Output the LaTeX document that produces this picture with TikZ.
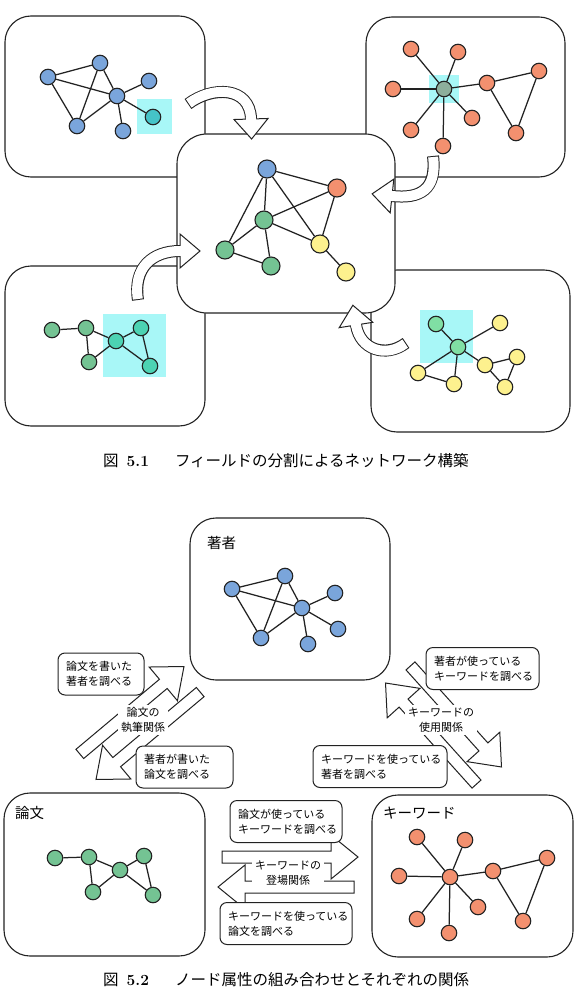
\documentclass[tikz,border=0pt]{standalone}
\usepackage{fontspec}
\newfontfamily\jp{Noto Sans CJK JP}
\usetikzlibrary{calc}
\definecolor{nblue}{HTML}{7AA5DB}
\definecolor{norange}{HTML}{F3906F}
\definecolor{ngreen}{HTML}{74C393}
\definecolor{nyellow}{HTML}{FDF18E}
\definecolor{hlc}{HTML}{A8F7F7}
\definecolor{nteal}{HTML}{45C4C8}
\definecolor{nteal2}{HTML}{4CD3B3}
\definecolor{ngrey}{HTML}{8DAF9C}
\definecolor{nmint}{HTML}{80DFA4}
\definecolor{ink}{HTML}{222222}
\newcommand{\fatarrow}[4]{%
  \draw[ink, line width=12pt] (#1) .. controls (#2) and (#3) .. (#4);
  \draw[white, line width=10pt, shorten <=1pt] (#1) .. controls (#2) and (#3) .. (#4);
  \filldraw[fill=white, draw=ink, line width=1pt, line join=miter]
    ($(#4)!17pt!90:(#3)$) -- ($(#4)!-20pt!(#3)$) -- ($(#4)!17pt!-90:(#3)$) -- cycle;
  \draw[white, line width=10pt] ($(#4)!2pt!(#3)$) -- ($(#4)!-2pt!(#3)$);
}
\newcommand{\splitarrows}[2]{%
  \begin{scope}[shift={(#1)}, rotate=#2]
    \filldraw[sarrow] (-66,-21) -- (43,-21) -- (43,-37) -- (70,-15) -- (43,7) -- (43,-9) -- (-66,-9) -- cycle;
    \filldraw[sarrow] (66,21) -- (-43,21) -- (-43,37) -- (-70,15) -- (-43,-7) -- (-43,9) -- (66,9) -- cycle;
  \end{scope}}
\begin{document}
\begin{tikzpicture}[x=1pt,y=-1pt,
  gnode/.style={circle, draw=ink, line width=1.1pt, minimum size=15.5pt, inner sep=0pt},
  cnode/.style={gnode, minimum size=18pt},
  edge/.style={draw=ink, line width=1.25pt},
  panel/.style={draw=ink, line width=1.1pt, rounded corners=26pt, fill=white},
  hl/.style={fill=hlc, draw=none},
  sarrow/.style={fill=white, draw=ink, line width=1pt, line join=miter},
  callout/.style={draw=ink, line width=1pt, rounded corners=7pt, fill=white, align=left,
    font=\jp\fontsize{11}{15}\selectfont, inner xsep=8pt, inner ysep=5pt, minimum height=42pt},
  rel/.style={fill=white, align=center, font=\jp\fontsize{11}{14.5}\selectfont, inner sep=3pt},
  ptitle/.style={anchor=west, font=\jp\fontsize{14.5}{16}\selectfont, inner sep=0pt},
]
\useasboundingbox (0,0) rectangle (579,1000);
\fill[white] (0,0) rectangle (579,1000);

% ================= Figure 5.1 =================
% top-left panel
\draw[panel] (5,16) rectangle (205,177);
\fill[hl] (137,99) rectangle (172,134);
\node[gnode, fill=nblue] (tA) at (48,77) {};
\node[gnode, fill=nblue] (tB) at (100,63) {};
\node[gnode, fill=nblue] (tC) at (117,96) {};
\node[gnode, fill=nblue] (tD) at (149,81) {};
\node[gnode, fill=nteal] (tE) at (153,117) {};
\node[gnode, fill=nblue] (tF) at (123,131) {};
\node[gnode, fill=nblue] (tG) at (77,126) {};
\foreach \a/\b in {tA/tB, tA/tC, tA/tG, tB/tG, tB/tC, tC/tD, tC/tE, tC/tF, tC/tG}
  \draw[edge] (\a) -- (\b);

% top-right panel
\draw[panel] (366,17) rectangle (565,177);
\fill[hl] (429,75) rectangle (459,103);
\node[gnode, fill=ngrey] (rH) at (444,89) {};
\node[gnode, fill=norange] (r1) at (411,49) {};
\node[gnode, fill=norange] (r2) at (458,52) {};
\node[gnode, fill=norange] (r3) at (393,89) {};
\node[gnode, fill=norange] (r4) at (487,83) {};
\node[gnode, fill=norange] (r5) at (539,71) {};
\node[gnode, fill=norange] (r6) at (472,118) {};
\node[gnode, fill=norange] (r7) at (411,130) {};
\node[gnode, fill=norange] (r8) at (443,146) {};
\node[gnode, fill=norange] (r9) at (516,133) {};
\foreach \a/\b in {rH/r1, rH/r2, rH/r3, rH/r4, rH/r6, rH/r7, rH/r8, r4/r5, r4/r9, r5/r9}
  \draw[edge] (\a) -- (\b);

% bottom-left panel
\draw[panel] (5,266) rectangle (205,426);
\fill[hl] (103,314) rectangle (166,377);
\node[gnode, fill=ngreen] (b1) at (52,330) {};
\node[gnode, fill=ngreen] (b2) at (86,328) {};
\node[gnode, fill=ngreen] (b3) at (89,362) {};
\node[gnode, fill=nteal2] (b4) at (116,341) {};
\node[gnode, fill=nteal2] (b5) at (141,328) {};
\node[gnode, fill=nteal2] (b6) at (150,366) {};
\foreach \a/\b in {b1/b2, b2/b3, b2/b4, b3/b4, b4/b5, b4/b6, b5/b6}
  \draw[edge] (\a) -- (\b);

% bottom-right panel
\draw[panel] (371,270) rectangle (570,432);
\fill[hl] (420,310) rectangle (473,363);
\node[gnode, fill=nmint] (m0) at (458,347) {};
\node[gnode, fill=nmint] (m1) at (436,324) {};
\node[gnode, fill=nyellow] (y1) at (500,323) {};
\node[gnode, fill=nyellow] (y2) at (418,373) {};
\node[gnode, fill=nyellow] (y3) at (454,384) {};
\node[gnode, fill=nyellow] (y4) at (485,365) {};
\node[gnode, fill=nyellow] (y5) at (517,357) {};
\node[gnode, fill=nyellow] (y6) at (505,387) {};
\foreach \a/\b in {m0/m1, m0/y1, m0/y2, m0/y3, m0/y4, y2/y3, y4/y5, y4/y6, y5/y6}
  \draw[edge] (\a) -- (\b);

% center panel
\draw[panel, rounded corners=30pt] (177,134) rectangle (395,313);
\node[cnode, fill=nblue] (cb) at (267,169) {};
\node[cnode, fill=norange] (co) at (337,188) {};
\node[cnode, fill=ngreen] (cg1) at (264,220) {};
\node[cnode, fill=ngreen] (cg2) at (225,250) {};
\node[cnode, fill=ngreen] (cg3) at (271,266) {};
\node[cnode, fill=nyellow] (cy1) at (320,244) {};
\node[cnode, fill=nyellow] (cy2) at (346,272) {};
\foreach \a/\b in {cb/co, cb/cg1, cb/cg2, cb/cy1, co/cg1, co/cy1, cg1/cg2, cg1/cg3, cg1/cy1, cg2/cg3, cy1/cy2}
  \draw[edge] (\a) -- (\b);

% fat curved arrows
\coordinate (a1s) at (188,104); \coordinate (a1p) at (212,86);
\coordinate (a1q) at (250,86);  \coordinate (a1e) at (251,119);
\coordinate (a2s) at (433,156); \coordinate (a2p) at (437,190);
\coordinate (a2q) at (420,199); \coordinate (a2e) at (392,196);
\coordinate (a3s) at (138,300); \coordinate (a3p) at (133,268);
\coordinate (a3q) at (152,251); \coordinate (a3e) at (180,251);
\coordinate (a4s) at (406,343); \coordinate (a4p) at (386,358);
\coordinate (a4q) at (360,350); \coordinate (a4e) at (356,325);
\fatarrow{a1s}{a1p}{a1q}{a1e}
\fatarrow{a2s}{a2p}{a2q}{a2e}
\fatarrow{a3s}{a3p}{a3q}{a3e}
\fatarrow{a4s}{a4p}{a4q}{a4e}

\node[anchor=west, inner sep=0pt] (cap1) at (103,461)
  {\fontsize{15.5}{18}\selectfont{\jp 図}\hspace{8pt}\textbf{5.1}\hspace{26pt}{\jp フィールドの分割によるネットワーク構築}};

% ================= Figure 5.2 =================
% author panel
\draw[panel] (190,518) rectangle (390,680);
\node[ptitle] (tauth) at (207,543) {著者};
\node[gnode, fill=nblue] (u1) at (232,589) {};
\node[gnode, fill=nblue] (u2) at (285,576) {};
\node[gnode, fill=nblue] (u3) at (302,608) {};
\node[gnode, fill=nblue] (u4) at (335,593) {};
\node[gnode, fill=nblue] (u5) at (338,629) {};
\node[gnode, fill=nblue] (u6) at (308,644) {};
\node[gnode, fill=nblue] (u7) at (261,638) {};
\foreach \a/\b in {u1/u2, u1/u3, u1/u7, u2/u7, u2/u3, u3/u4, u3/u5, u3/u6, u3/u7}
  \draw[edge] (\a) -- (\b);

% paper panel
\draw[panel] (4,793) rectangle (205,956);
\node[ptitle] (tpap) at (15,813) {論文};
\node[gnode, fill=ngreen] (p1) at (55,858) {};
\node[gnode, fill=ngreen] (p2) at (89,857) {};
\node[gnode, fill=ngreen] (p3) at (93,892) {};
\node[gnode, fill=ngreen] (p4) at (120,870) {};
\node[gnode, fill=ngreen] (p5) at (144,856) {};
\node[gnode, fill=ngreen] (p6) at (153,895) {};
\foreach \a/\b in {p1/p2, p2/p3, p2/p4, p3/p4, p4/p5, p4/p6, p5/p6}
  \draw[edge] (\a) -- (\b);

% keyword panel
\draw[panel] (372,795) rectangle (573,957);
\node[ptitle] (tkey) at (383,813) {キーワード};
\node[gnode, fill=norange] (k0) at (450,877) {};
\node[gnode, fill=norange] (k1) at (417,837) {};
\node[gnode, fill=norange] (k2) at (465,840) {};
\node[gnode, fill=norange] (k3) at (399,876) {};
\node[gnode, fill=norange] (k4) at (493,871) {};
\node[gnode, fill=norange] (k5) at (547,858) {};
\node[gnode, fill=norange] (k6) at (478,907) {};
\node[gnode, fill=norange] (k7) at (417,919) {};
\node[gnode, fill=norange] (k8) at (449,933) {};
\node[gnode, fill=norange] (k9) at (523,921) {};
\foreach \a/\b in {k0/k1, k0/k2, k0/k3, k0/k4, k0/k6, k0/k7, k0/k8, k4/k5, k4/k9, k5/k9}
  \draw[edge] (\a) -- (\b);

% split arrows
\splitarrows{140,723}{40}
\splitarrows{443.5,725}{-48}
\splitarrows{288,872}{0}

% relation labels
\node[rel] (rl1) at (143,720) {論文の\\執筆関係};
\node[rel] (rl2) at (441,720) {キーワードの\\使用関係};
\node[rel] (rl3) at (288,873) {キーワードの\\登場関係};

% callouts
\node[callout, text width=70pt] (c1) at (101,674) {論文を書いた\\著者を調べる};
\node[callout, text width=81pt] (c2) at (184.5,767) {著者が書いた\\論文を調べる};
\node[callout, text width=97pt] (c3) at (482.5,668.5) {著者が使っている\\キーワードを調べる};
\node[callout, text width=118pt] (c4) at (380,766.5) {キーワードを使っている\\著者を調べる};
\node[callout, text width=96pt] (c5) at (286,821.5) {論文が使っている\\キーワードを調べる};
\node[callout, text width=116pt] (c6) at (286,923.5) {キーワードを使っている\\論文を調べる};

\node[anchor=west, inner sep=0pt] (cap2) at (103,980)
  {\fontsize{15.5}{18}\selectfont{\jp 図}\hspace{8pt}\textbf{5.2}\hspace{26pt}{\jp ノード属性の組み合わせとそれぞれの関係}};
\end{tikzpicture}
\end{document}
